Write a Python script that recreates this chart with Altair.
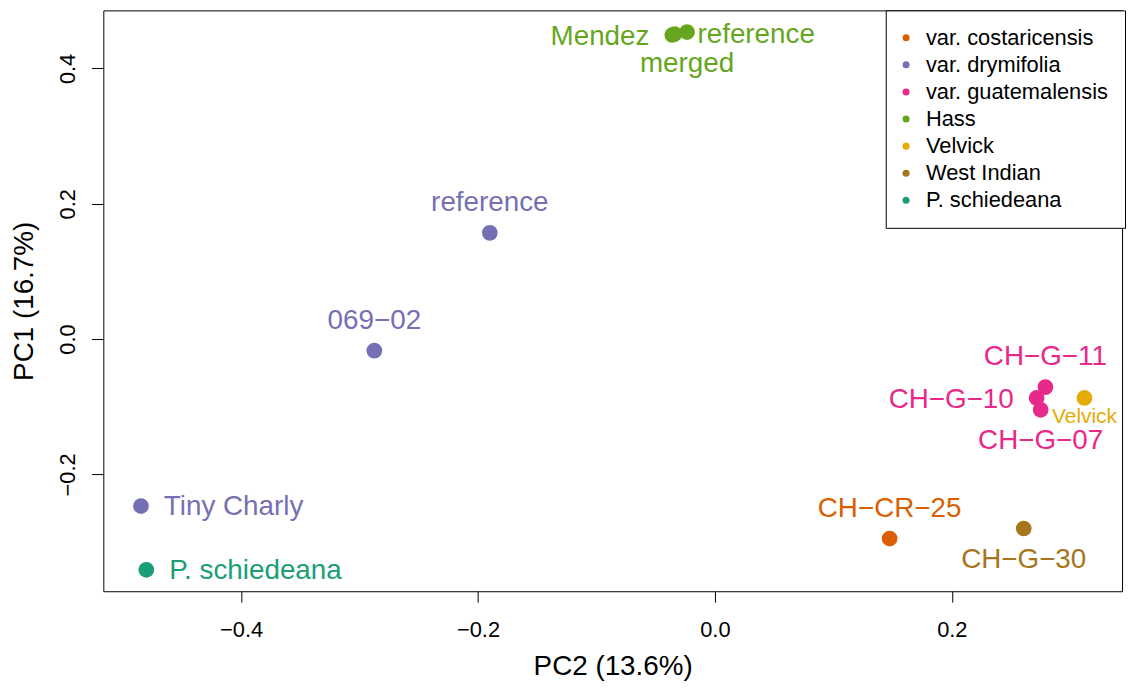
import altair as alt
import pandas as pd

# ---- data ----
sample_labels = ["Mendez", "reference", "merged", "reference", "069\u221202", "Tiny Charly",
                 "P. schiedeana", "CH\u2212G\u221211", "CH\u2212G\u221210", "CH\u2212G\u221207",
                 "Velvick", "CH\u2212CR\u221225", "CH\u2212G\u221230"]
sample_groups = ["Hass", "Hass", "Hass", "var. drymifolia", "var. drymifolia", "var. drymifolia",
                 "P. schiedeana", "var. guatemalensis", "var. guatemalensis", "var. guatemalensis",
                 "Velvick", "var. costaricensis", "West Indian"]
pc2_values = [-0.036, -0.034, -0.0235, -0.190, -0.2875, -0.4845, -0.480,
              0.279, 0.2716, 0.275, 0.312, 0.1475, 0.2607]
pc1_values = [0.4494, 0.4509, 0.4538, 0.157, -0.017, -0.2468, -0.341,
              -0.071, -0.087, -0.1045, -0.087, -0.2948, -0.280]
label_positions = ["left", "right", "below", "above", "above", "right", "right",
                   "above", "left", "below", "small", "above", "below"]

group_order = ["var. costaricensis", "var. drymifolia", "var. guatemalensis", "Hass",
               "Velvick", "West Indian", "P. schiedeana"]
group_colors = ["#D95F02", "#7570B3", "#E7298A", "#66A61E", "#E6AB02", "#A6761D", "#1B9E77"]

x_ticks = [-0.4, -0.2, 0.0, 0.2]
y_ticks = [-0.2, 0.0, 0.2, 0.4]

df = pd.DataFrame({
    "label": sample_labels,
    "group": sample_groups,
    "pc2": pc2_values,
    "pc1": pc1_values,
    "pos": label_positions,
})
df["hex"] = df["group"].map(dict(zip(group_order, group_colors)))

FONT = "Liberation Sans"
minus_expr = "replace(format(datum.value, '.1f'), '-', '\u2212')"

xscale = alt.Scale(domain=[-0.5163, 0.3437], nice=False, zero=False)
yscale = alt.Scale(domain=[-0.3727, 0.4858], nice=False, zero=False)

x_enc = alt.X("pc2:Q", scale=xscale, title="PC2 (13.6%)",
              axis=alt.Axis(values=x_ticks, labelExpr=minus_expr, tickSize=11, tickColor="black",
                            labelFontSize=22, labelFont=FONT, labelColor="black", labelPadding=18,
                            titleFontSize=28, titleFont=FONT, titleColor="black",
                            titleFontWeight="normal", titlePadding=12, domain=False, grid=False))
y_enc = alt.Y("pc1:Q", scale=yscale, title="PC1 (16.7%)",
              axis=alt.Axis(values=y_ticks, labelExpr=minus_expr, tickSize=12, tickColor="black",
                            labelFontSize=22, labelFont=FONT, labelColor="black", labelPadding=12,
                            labelAngle=270, labelAlign="center", labelBaseline="bottom",
                            titleFontSize=28, titleFont=FONT, titleColor="black",
                            titleFontWeight="normal", titlePadding=18, domain=False, grid=False))

base = alt.Chart(df)

points = base.mark_circle(size=250, opacity=1).encode(
    x=x_enc, y=y_enc,
    color=alt.Color("group:N", title=None,
                    scale=alt.Scale(domain=group_order, range=group_colors),
                    legend=alt.Legend(orient="none", legendX=788, legendY=0,
                                      padding=16.5, rowPadding=5.3,
                                      labelOffset=9, symbolOffset=-7,
                                      labelFontSize=22, labelFont=FONT,
                                      labelColor="black", labelLimit=400, symbolType="circle",
                                      symbolSize=50, symbolStrokeWidth=0, strokeColor="black",
                                      fillColor="white", cornerRadius=0)),
)

def text_layer(pos, align, dx, dy, size):
    return base.transform_filter(alt.datum.pos == pos).mark_text(
        align=align, baseline="alphabetic", dx=dx, dy=dy, fontSize=size, font=FONT
    ).encode(
        x=alt.X("pc2:Q", scale=xscale),
        y=alt.Y("pc1:Q", scale=yscale),
        text="label:N",
        color=alt.Color("hex:N", scale=None),
    )

layers = [
    points,
    text_layer("above", "center", 0, -22, 28),
    text_layer("below", "center", 0, 40, 28),
    text_layer("left", "right", -23, 10, 28),
    text_layer("right", "left", 23, 9, 28),
    text_layer("small", "center", 0, 25, 21),
]

chart = alt.layer(*layers).properties(
    width=1026, height=585,
    padding={"left": 96, "top": 0, "right": 5, "bottom": 90},
    autosize="none",
    background="white",
).configure_view(stroke="black", strokeWidth=1)

chart.save("out.html", embed_options={"renderer": "svg", "actions": False})
